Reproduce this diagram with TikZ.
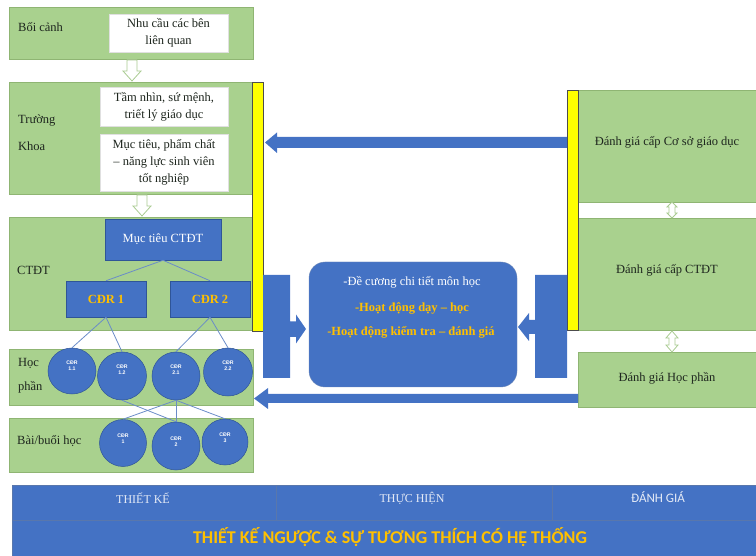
\documentclass[tikz,border=0pt]{standalone}
\usepackage{fontspec}
\setmainfont{Liberation Serif}
\newfontfamily\calibf{Carlito}
\newfontfamily\arialf{Liberation Sans}
\usetikzlibrary{shapes.geometric,calc}
\definecolor{gfill}{HTML}{A9D18E}
\definecolor{gdraw}{HTML}{8FB573}
\definecolor{bfill}{HTML}{4472C4}
\definecolor{bdraw}{HTML}{2F5597}
\definecolor{gold}{HTML}{FFC000}
\definecolor{tline}{HTML}{6A8CC8}
\definecolor{txt}{HTML}{1E261E}
\definecolor{ylw}{HTML}{FFFF00}
\definecolor{harrow}{HTML}{A9CB91}
\definecolor{bandtxt}{HTML}{E4EAF6}
\newcommand\mfs{\fontsize{12.5}{17}\selectfont}
\begin{document}
\begin{tikzpicture}[x=1pt,y=-1pt,
  gbox/.style={draw=gdraw, fill=gfill, line width=0.6pt, inner sep=0pt},
  wbox/.style={draw=black!12, fill=white, line width=0.5pt, inner sep=0pt, align=center, text=txt, font=\mfs},
  bbox/.style={draw=bdraw, fill=bfill, line width=0.5pt, inner sep=0pt, align=center, font=\mfs},
  lbl/.style={anchor=west, inner sep=0pt, text=txt, font=\mfs},
  ybar/.style={draw=black!70, fill=ylw, line width=0.5pt, inner sep=0pt},
  circ/.style={ellipse, draw=bdraw, fill=bfill, line width=0.5pt, inner sep=0pt},
  clbl/.style={inner sep=0pt, align=center, text=white, font=\arialf\bfseries\fontsize{5.2}{6}\selectfont},
  tree/.style={draw=tline, line width=0.8pt},
  hollow/.style={draw=harrow, fill=white, line width=0.8pt},
  blk/.style={fill=bfill},
  band/.style={draw=bdraw!80, fill=bfill, line width=0.6pt, inner sep=0pt}
]
\useasboundingbox (0,0) rectangle (756,556);

% ---------- left column ----------
\node[gbox, minimum width=244pt, minimum height=52pt] (ctx) at (131,33) {};
\node[wbox, minimum width=119pt, minimum height=38pt] (nhu) at (168.5,33) {Nhu cầu các bên\\liên quan};
\node[lbl] (tctx) at (18,27) {Bối cảnh};

\node[gbox, minimum width=244pt, minimum height=112pt] (truong) at (131,138) {};
\node[wbox, minimum width=128pt, minimum height=39pt] (tam) at (164,106.5) {Tầm nhìn, sứ mệnh,\\triết lý giáo dục};
\node[wbox, minimum width=128pt, minimum height=57pt] (muc) at (164,162.5) {Mục tiêu, phẩm chất\\– năng lực sinh viên\\tốt nghiệp};
\node[lbl] (ttr) at (18,121) {Trường};
\node[lbl] (tkh) at (18,146) {Khoa};

\node[gbox, minimum width=244pt, minimum height=113pt] (ctdt) at (131,273.5) {};
\node[lbl] (tct) at (17,270) {CTĐT};
\node[bbox, minimum width=116pt, minimum height=41pt, text=white] (mtc) at (163,239.5) {Mục tiêu CTĐT};
\node[bbox, minimum width=80pt, minimum height=36pt, text=gold, font=\mfs\bfseries] (cdr1) at (106,299) {CĐR 1};
\node[bbox, minimum width=80pt, minimum height=36pt, text=gold, font=\mfs\bfseries] (cdr2) at (210,299) {CĐR 2};

\node[gbox, minimum width=244pt, minimum height=56pt] (hp) at (131,377) {};
\node[lbl] (thp1) at (18,363) {Học};
\node[lbl] (thp2) at (18,387) {phần};

\node[gbox, minimum width=244pt, minimum height=54pt] (bai) at (131,445) {};
\node[lbl] (tbai) at (17,441) {Bài/buổi học};

% hollow arrows
\path[hollow] (127,60)--(137,60)--(137,71)--(141,71)--(132,81)--(123,71)--(127,71)--cycle;
\path[hollow] (137,195)--(147,195)--(147,206)--(151,206)--(142,216)--(133,206)--(137,206)--cycle;

% tree lines
\draw[tree] (mtc.south) -- (cdr1.north);
\draw[tree] (mtc.south) -- (cdr2.north);

% circles
\node[circ, minimum width=48pt, minimum height=46pt] (c11) at (72,371) {};
\node[circ, minimum width=49pt, minimum height=48pt] (c12) at (122,376) {};
\node[circ, minimum width=48pt, minimum height=48pt] (c21) at (176,376) {};
\node[circ, minimum width=49pt, minimum height=48pt] (c22) at (228,372) {};
\node[circ, minimum width=47pt, minimum height=47pt] (b1) at (123,443) {};
\node[circ, minimum width=48pt, minimum height=48pt] (b2) at (176,446) {};
\node[circ, minimum width=46pt, minimum height=46pt] (b3) at (225,442) {};

\draw[tree] (cdr1.south) -- (c11.north);
\draw[tree] (cdr1.south) -- (c12.north);
\draw[tree] (cdr2.south) -- (c21.north);
\draw[tree] (cdr2.south) -- (c22.north);
\draw[tree] (c12.south) -- (b2.north);
\draw[tree] (c21.south) -- (b1.north);
\draw[tree] (c21.south) -- (b2.north);
\draw[tree] (c21.south) -- (b3.north);

\node[clbl] (l11) at ($(c11)+(0,-5)$) {CĐR\\1.1};
\node[clbl] (l12) at ($(c12)+(0,-6)$) {CĐR\\1.2};
\node[clbl] (l21) at ($(c21)+(0,-6)$) {CĐR\\2.1};
\node[clbl] (l22) at ($(c22)+(0,-6)$) {CĐR\\2.2};
\node[clbl] (lb1) at ($(b1)+(0,-4)$) {CĐR\\1};
\node[clbl] (lb2) at ($(b2)+(0,-4)$) {CĐR\\2};
\node[clbl] (lb3) at ($(b3)+(0,-4)$) {CĐR\\3};

% ---------- right column ----------
\node[gbox, minimum width=180pt, minimum height=112pt] (dg1) at (668,146) {};
\node[gbox, minimum width=180pt, minimum height=112pt] (dg2) at (668,274) {};
\node[gbox, minimum width=180pt, minimum height=55pt] (dg3) at (668,379.5) {};
\node[inner sep=0pt, text=txt, font=\mfs] (tdg1) at (667,142) {Đánh giá cấp Cơ sở giáo dục};
\node[inner sep=0pt, text=txt, font=\mfs] (tdg2) at (667,270) {Đánh giá cấp CTĐT};
\node[inner sep=0pt, text=txt, font=\mfs] (tdg3) at (667,378) {Đánh giá Học phần};

\path[hollow] (672,202)--(677,207)--(675,207)--(675,213)--(677,213)--(672,218)--(667,213)--(669,213)--(669,207)--(667,207)--cycle;
\path[hollow] (672,331)--(678,338)--(675,338)--(675,345)--(678,345)--(672,352)--(666,345)--(669,345)--(669,338)--(666,338)--cycle;

% ---------- yellow bars ----------
\node[ybar, minimum width=11pt, minimum height=249pt] (ybL) at (257.5,206.5) {};
\node[ybar, minimum width=11pt, minimum height=240pt] (ybR) at (572.5,210) {};

% ---------- big blue arrows ----------
\fill[blk] (567,137) -- (277,137) -- (277,132.5) -- (265,142.5) -- (277,153) -- (277,148) -- (567,148) -- cycle;
\fill[blk] (578,394) -- (268,394) -- (268,388) -- (254,398.5) -- (268,409) -- (268,403) -- (578,403) -- cycle;

% callout blocks
\fill[blk] (263,275) -- (290,275) -- (290,321.5) -- (296,321.5) -- (296,314.5) -- (306,329) -- (296,343.5) -- (296,337) -- (290,337) -- (290,378) -- (263,378) -- cycle;
\fill[blk] (567,275) -- (535,275) -- (535,320) -- (529,320) -- (529,313) -- (518,327) -- (529,341) -- (529,334) -- (535,334) -- (535,378) -- (567,378) -- cycle;

% rounded center box
\node[draw=bdraw!70, fill=bfill, rounded corners=16pt, minimum width=208pt, minimum height=125pt, inner sep=0pt] (rbox) at (413,324.5) {};
\node[inner sep=0pt, text=white, font=\mfs] (r1) at (412,282) {-Đề cương chi tiết môn học};
\node[inner sep=0pt, text=gold, font=\mfs\bfseries] (r2) at (412,308) {-Hoạt động dạy – học};
\node[inner sep=0pt, text=gold, font=\mfs\bfseries] (r3) at (411,332) {-Hoạt động kiểm tra – đánh giá};

% ---------- bottom bands ----------
\node[band, minimum width=264pt, minimum height=35pt] (bk1) at (144,502.5) {};
\node[band, minimum width=276pt, minimum height=35pt] (bk2) at (414,502.5) {};
\node[band, minimum width=206pt, minimum height=35pt] (bk3) at (655,502.5) {};
\node[band, minimum width=746pt, minimum height=37pt] (bk4) at (385,538.5) {};
\node[inner sep=0pt, text=bandtxt, font=\fontsize{12}{14}\selectfont] (tb1) at (143,498) {THIẾT KẾ};
\node[inner sep=0pt, text=bandtxt, font=\fontsize{12}{14}\selectfont] (tb2) at (412,498) {THỰC HIỆN};
\node[inner sep=0pt, text=bandtxt, font=\calibf\fontsize{13}{14}\selectfont] (tb3) at (658,497) {ĐÁNH GIÁ};
\node[inner sep=0pt, text=gold, font=\calibf\bfseries\fontsize{18}{20}\selectfont] (tb4) at (390,537) {THIẾT KẾ NGƯỢC \& SỰ TƯƠNG THÍCH CÓ HỆ THỐNG};
\end{tikzpicture}
\end{document}
